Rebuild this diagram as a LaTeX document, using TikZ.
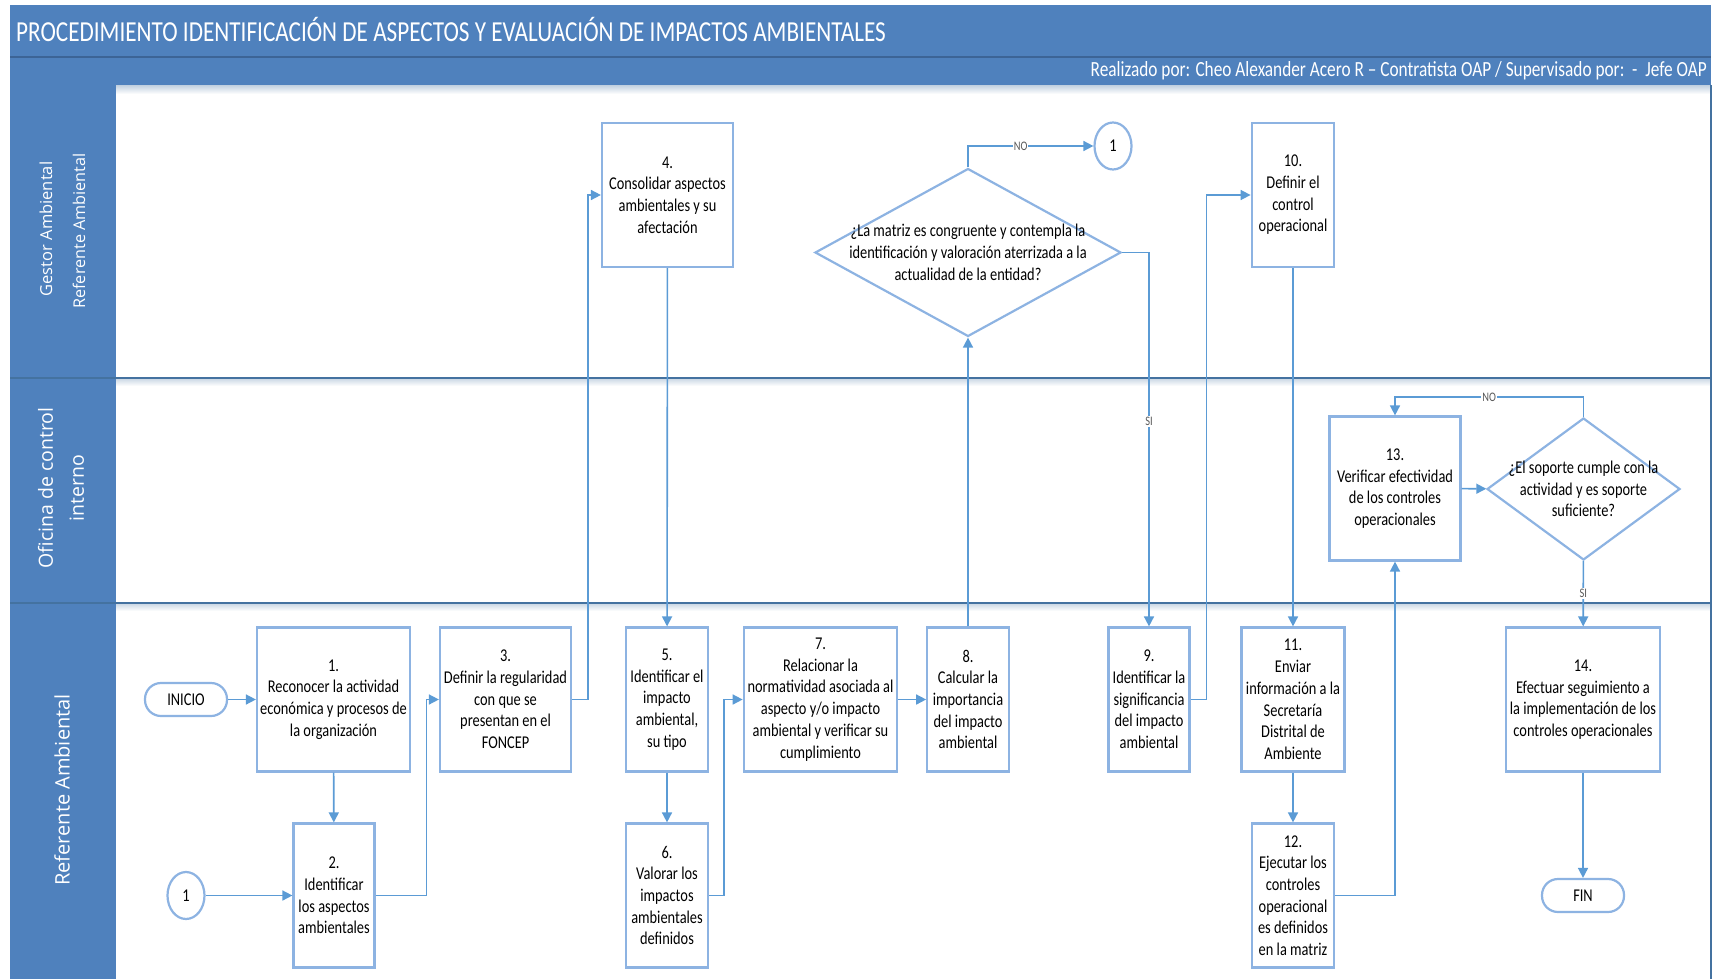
\documentclass[tikz,border=0pt]{standalone}
\usepackage{fontspec}
\setmainfont{Carlito}
\newfontfamily\flowfont[FakeStretch=0.8]{Carlito}
\newfontfamily\lanefont{Open Sans}
\usepackage{tikz}
\usetikzlibrary{arrows.meta, shapes.geometric}
\definecolor{hdrblue}{RGB}{79,129,189}
\definecolor{hdrline}{RGB}{60,100,150}
\definecolor{sepblue}{RGB}{68,114,160}
\definecolor{boxline}{RGB}{141,179,226}
\definecolor{arrowblue}{RGB}{91,155,213}
\tikzset{
    paso/.style={draw=boxline, line width=2.2pt, fill=white, align=center,
        minimum height=144pt, inner sep=2pt, font=\flowfont\fontsize{18}{21.7}\selectfont},
    decision/.style={diamond, draw=boxline, line width=2.2pt, fill=white, inner sep=0pt},
    dtext/.style={align=center, font=\flowfont\fontsize{18}{21.7}\selectfont},
    term/.style={draw=boxline, line width=2.2pt, fill=white, rounded corners=16pt,
        minimum width=82pt, minimum height=33pt, font=\flowfont\fontsize{18}{20}\selectfont},
    conector/.style={ellipse, draw=boxline, line width=2.2pt, fill=white,
        minimum width=37pt, minimum height=47pt, inner sep=0pt, font=\flowfont\fontsize{18}{20}\selectfont},
    flujo/.style={draw=arrowblue, line width=1.6pt, -{Triangle[length=10pt,width=10pt]}},
    lbl/.style={fill=white, inner sep=1pt, text=black!65, font=\flowfont\fontsize{13}{14}\selectfont},
    carril/.style={rotate=90, text=white, align=center, font=\lanefont}}

\begin{document}
\begin{tikzpicture}[x=1pt,y=-1pt]
    \useasboundingbox (0,0) rectangle (1715,979);

    \fill[hdrblue] (10,5) rectangle (1711,85);
    \fill[hdrblue] (10,85) rectangle (116,979);
    \draw[hdrline, line width=1.5pt] (10,57) -- (1711,57);
    \shade[top color=sepblue!30, bottom color=white] (116,86) rectangle (1711,94);
    \shade[top color=sepblue!30, bottom color=white] (116,378) rectangle (1711,386);
    \shade[top color=sepblue!30, bottom color=white] (116,603) rectangle (1711,611);
    \draw[sepblue, line width=2pt] (10,377.5) -- (1711,377.5);
    \draw[sepblue, line width=2pt] (10,602.5) -- (1711,602.5);
    \draw[sepblue, line width=2pt] (1711,85) -- (1711,979);

    \node[anchor=base west, text=white, inner sep=0pt, font=\flowfont\fontsize{29}{30}\selectfont] (titulo) at (16,41.5)
        {PROCEDIMIENTO IDENTIFICACIÓN DE ASPECTOS Y EVALUACIÓN DE IMPACTOS AMBIENTALES};
    \node[anchor=base east, text=white, inner sep=0pt, font=\flowfont\fontsize{21.6}{23}\selectfont] (autor) at (1707,76.5)
        {Realizado por: Cheo Alexander Acero R – Contratista OAP / Supervisado por:\ \ -\ \ Jefe OAP};

    \node[carril, font=\lanefont\fontsize{16.5}{18}\selectfont] (gestor) at (46,229) {Gestor Ambiental};
    \node[carril, font=\lanefont\fontsize{16.2}{18}\selectfont] (referente1) at (79,231) {Referente Ambiental};
    \node[carril, font=\lanefont\fontsize{19.5}{31}\selectfont] (oficina) at (61,488) {Oficina de control\\interno};
    \node[carril, font=\lanefont\fontsize{20}{24}\selectfont] (referente3) at (62,790) {Referente Ambiental};

    \node[term] (inicio) at (186,699.5) {INICIO};
    \node[paso, minimum width=153pt] (p1) at (333.5,699.5) {1.\\Reconocer la actividad\\económica y procesos de\\la organización};
    \node[paso, minimum width=81pt] (p2) at (334,895.5) {2.\\Identificar\\los aspectos\\ambientales};
    \node[conector] (c1b) at (186,895.5) {1};
    \node[paso, minimum width=131pt] (p3) at (505.5,699.5) {3.\\Definir la regularidad\\con que se\\presentan en el\\FONCEP};
    \node[paso, minimum width=131pt] (p4) at (667.5,195) {4.\\Consolidar aspectos\\ambientales y su\\afectación};
    \node[paso, minimum width=82pt] (p5) at (667,699.5) {5.\\Identificar el\\impacto\\ambiental,\\su tipo};
    \node[paso, minimum width=82pt] (p6) at (667,895.5) {6.\\Valorar los\\impactos\\ambientales\\definidos};
    \node[paso, minimum width=153.5pt] (p7) at (820.5,699.5) {7.\\Relacionar la\\normatividad asociada al\\aspecto y/o impacto\\ambiental y verificar su\\cumplimiento};
    \node[paso, minimum width=81.5pt] (p8) at (968,699.5) {8.\\Calcular la\\importancia\\del impacto\\ambiental};
    \node[decision, minimum width=306pt, minimum height=168pt,
        label={[dtext]center:{¿La matriz es congruente y contempla la\\identificación y valoración aterrizada a la\\actualidad de la entidad?}}] (d1) at (968,252.5) {};
    \node[conector] (c1t) at (1113,146) {1};
    \node[paso, minimum width=81pt] (p9) at (1149,699.5) {9.\\Identificar la\\significancia\\del impacto\\ambiental};
    \node[paso, minimum width=82.6pt] (p10) at (1293,195) {10.\\Definir el\\control\\operacional};
    \node[paso, minimum width=103pt] (p11) at (1293,699.5) {11.\\Enviar\\información a la\\Secretaría\\Distrital de\\Ambiente};
    \node[paso, minimum width=82.6pt] (p12) at (1293,895.5) {12.\\Ejecutar los\\controles\\operacional\\es definidos\\en la matriz};
    \node[paso, minimum width=131pt] (p13) at (1395,488.5) {13.\\Verificar efectividad\\de los controles\\operacionales};
    \node[decision, minimum width=193pt, minimum height=142pt,
        label={[dtext]center:{¿El soporte cumple con la\\actividad y es soporte\\suficiente?}}] (d2) at (1583.5,489) {};
    \node[paso, minimum width=154pt] (p14) at (1583,699.5) {14.\\Efectuar seguimiento a\\la implementación de los\\controles operacionales};
    \node[term] (fin) at (1583,895.5) {FIN};

    \draw[flujo] (inicio) -- (p1);
    \draw[flujo] (p1) -- (p2);
    \draw[flujo] (c1b) -- (p2);
    \draw[flujo] (p2.east) -- ++(51,0) |- (p3.west);
    \draw[flujo] (p3.east) -- ++(16,0) |- (p4.west);
    \draw[flujo] (p4) -- (p5);
    \draw[flujo] (p5) -- (p6);
    \draw[flujo] (p6.east) -- ++(15,0) |- (p7.west);
    \draw[flujo] (p7) -- (p8);
    \draw[flujo] (p8) -- (d1);
    \draw[flujo] (d1.north) |- (c1t.west) node[lbl, pos=0.71] {NO};
    \draw[flujo] (d1.east) -| (p9.north) node[lbl, pos=0.726] {SI};
    \draw[flujo] (p9.east) -- ++(16,0) |- (p10.west);
    \draw[flujo] (p10) -- (p11);
    \draw[flujo] (p11) -- (p12);
    \draw[flujo] (p12.east) -| (p13.south);
    \draw[flujo] (p13) -- (d2);
    \draw[flujo] (d2.north) -- ++(0,-20) -| (p13.north) node[lbl, pos=0.25] {NO};
    \draw[flujo] (d2) -- (p14) node[lbl, midway] {SI};
    \draw[flujo] (p14) -- (fin);

\end{tikzpicture}
\end{document}
